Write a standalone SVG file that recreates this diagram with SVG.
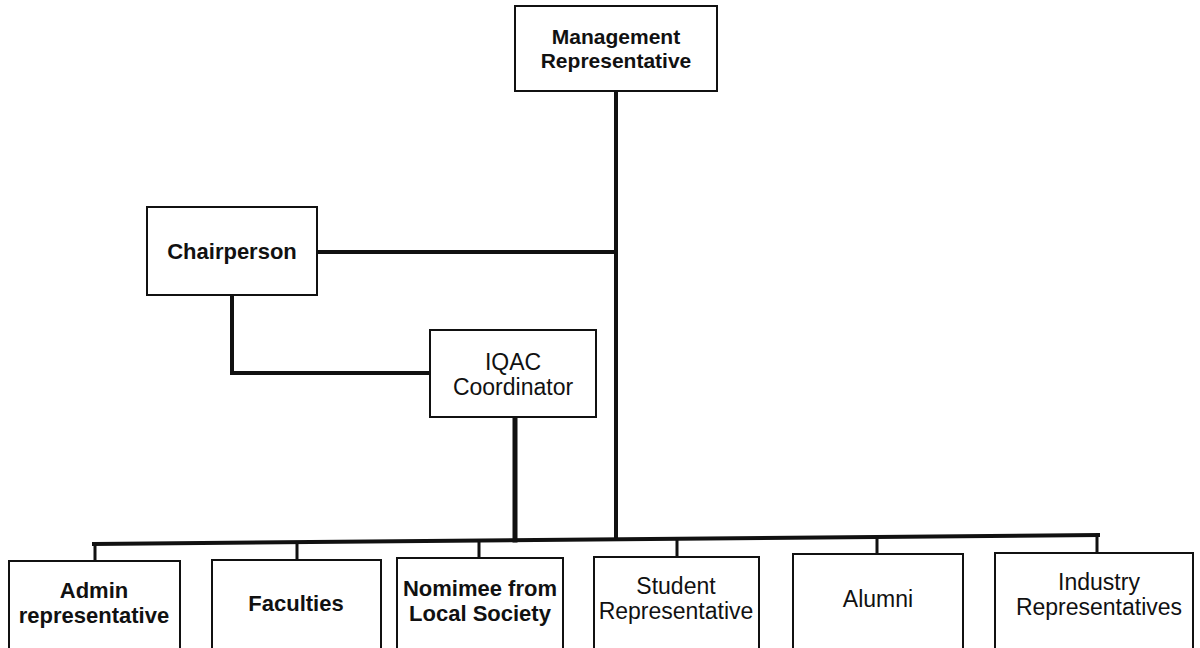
<svg xmlns="http://www.w3.org/2000/svg" width="1200" height="648" viewBox="0 0 1200 648">
<style>
.box{fill:#fff;stroke:#111;stroke-width:2}
.t{font-family:"Liberation Sans",Arial,sans-serif;font-size:22px;fill:#111;text-anchor:middle}
.b{font-weight:bold}
.r{font-size:23px}
.c{stroke:#111;stroke-width:4;fill:none;stroke-linecap:square}
.d{stroke:#111;stroke-width:3;fill:none}
</style>
<rect width="1200" height="648" fill="#fff"/>
<g id="connectors">
<path class="c" d="M616 91V539"/>
<path class="c" d="M317 252H615"/>
<path class="c" d="M232 295V373H430"/>
<path class="c" d="M515 417V540" style="stroke-width:5"/>
<path class="c" d="M94 544L1098 535"/>
<path class="d" d="M95 544V561M297 542V560M479 540V558M677 539V557M877 537V554M1097 535V553"/>
</g>
<g id="management">
<rect class="box" x="515" y="6" width="202" height="85"/>
<text class="t b" x="616" y="44" style="font-size:21px">Management</text>
<text class="t b" x="616" y="68" style="font-size:21px">Representative</text>
</g>
<g id="chairperson">
<rect class="box" x="147" y="207" width="170" height="88"/>
<text class="t b" x="232" y="259">Chairperson</text>
</g>
<g id="iqac">
<rect class="box" x="430" y="330" width="166" height="87"/>
<text class="t r" x="513" y="370">IQAC</text>
<text class="t r" x="513" y="395">Coordinator</text>
</g>
<g id="admin">
<rect class="box" x="9" y="561" width="171" height="92"/>
<text class="t b" x="94" y="598">Admin</text>
<text class="t b" x="94" y="623">representative</text>
</g>
<g id="faculties">
<rect class="box" x="212" y="560" width="169" height="93"/>
<text class="t b" x="296" y="611">Faculties</text>
</g>
<g id="nominee">
<rect class="box" x="397" y="558" width="166" height="95"/>
<text class="t b" x="480" y="596">Nomimee from</text>
<text class="t b" x="480" y="621">Local Society</text>
</g>
<g id="student">
<rect class="box" x="594" y="557" width="165" height="96"/>
<text class="t r" x="676" y="594">Student</text>
<text class="t r" x="676" y="619">Representative</text>
</g>
<g id="alumni">
<rect class="box" x="793" y="554" width="170" height="99"/>
<text class="t r" x="878" y="607">Alumni</text>
</g>
<g id="industry">
<rect class="box" x="995" y="553" width="198" height="100"/>
<text class="t r" x="1099" y="590">Industry</text>
<text class="t r" x="1099" y="615">Representatives</text>
</g>
</svg>
